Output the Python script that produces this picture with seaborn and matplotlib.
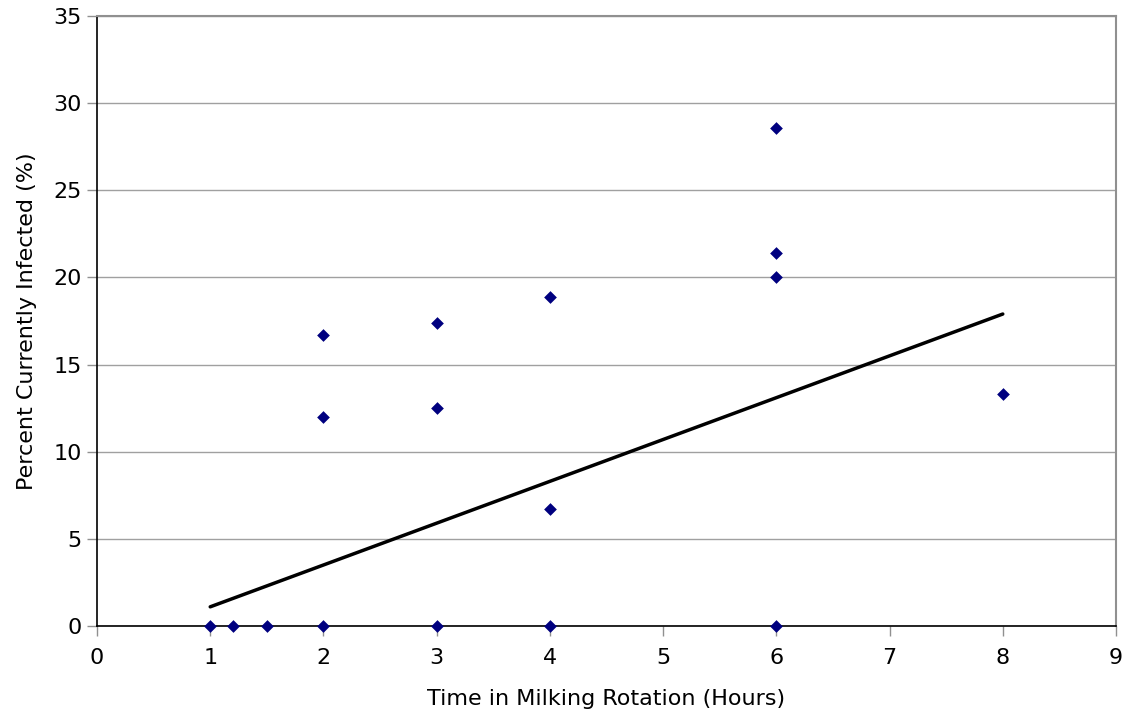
import matplotlib
matplotlib.use("Agg")
import matplotlib.pyplot as plt
import seaborn as sns
import pandas as pd

hours = [1, 1.2, 1.5, 2, 2, 2, 3, 3, 3, 4, 4, 4, 6, 6, 6, 6, 8]
infected = [0, 0, 0, 0, 12.0, 16.7, 0, 12.5, 17.4, 0, 6.7, 18.9, 0, 20.0, 21.4, 28.6, 13.3]
trend_x = [1, 8]
trend_y = [1.1, 17.9]
x_ticks = list(range(0, 10))
y_ticks = list(range(0, 36, 5))

sns.set_theme(style="white")
plt.rcParams['font.family'] = ['DejaVu Sans']

fig = plt.figure(figsize=(11.27, 7.21), dpi=100)
ax = fig.add_axes([97/1127, 1 - 626/721, (1116-97)/1127, (626-16)/721])

df = pd.DataFrame({"hours": hours, "infected": infected})
sns.lineplot(x=trend_x, y=trend_y, ax=ax, color="black", linewidth=2.5, zorder=3)
sns.scatterplot(data=df, x="hours", y="infected", ax=ax, marker="D", s=42,
                color="#00007f", edgecolor="#00007f", linewidth=0, zorder=4, clip_on=False)

ax.set_xlim(0, 9)
ax.set_ylim(0, 35)
ax.set_xticks(x_ticks)
ax.set_yticks(y_ticks)
ax.yaxis.grid(True, color="#a0a0a0", linewidth=1)
ax.set_axisbelow(True)

for s in ["left", "bottom"]:
    ax.spines[s].set_color("black")
    ax.spines[s].set_linewidth(1.2)
for s in ["top", "right"]:
    ax.spines[s].set_color("#909090")
    ax.spines[s].set_linewidth(1.5)

ax.tick_params(axis="both", which="both", direction="out", length=7, width=1,
               color="#909090", labelsize=16, labelcolor="black",
               bottom=True, left=True)
ax.tick_params(axis="y", pad=4)
ax.tick_params(axis="x", pad=9)

ax.set_xlabel("Time in Milking Rotation (Hours)", fontsize=16, labelpad=15, color="black")
ax.set_ylabel("Percent Currently Infected (%)", fontsize=16, labelpad=12, color="black")

fig.savefig("out.png", dpi=100, facecolor="white")
